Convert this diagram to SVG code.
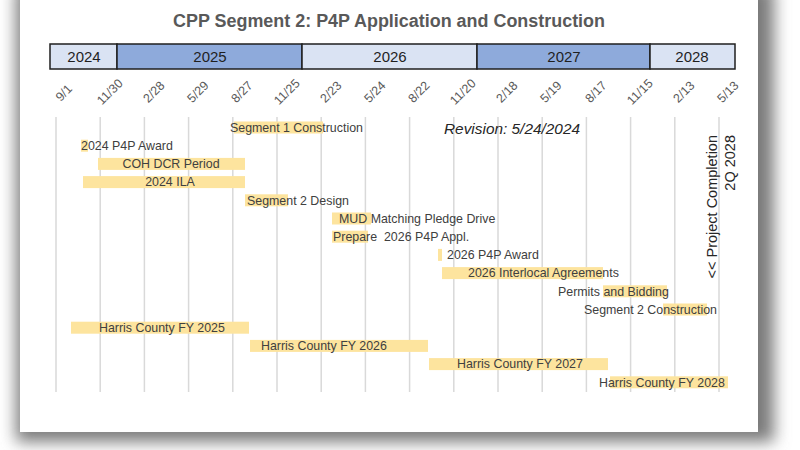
<svg xmlns="http://www.w3.org/2000/svg" width="800" height="450" viewBox="0 0 800 450">
<defs>
<filter id="sh" x="-10%" y="-10%" width="120%" height="130%">
<feGaussianBlur stdDeviation="8"/>
</filter>
<style>
.yr{fill:#dae3f3;stroke:#1f1f1f;stroke-width:1.5}
.yrd{fill:#8eaadb;stroke:#1f1f1f;stroke-width:1.5}
.yt{font-family:"Liberation Sans",Arial,sans-serif;font-size:15px;fill:#1f1f1f;text-anchor:middle}
.tk{font-family:"Liberation Sans",Arial,sans-serif;font-size:12.5px;fill:#595959;text-anchor:middle}
.gl{stroke:#d9d9d9;stroke-width:1.5}
.bar{fill:#fde49e}
.lb{font-family:"Liberation Sans",Arial,sans-serif;font-size:12.4px;fill:#404040;white-space:pre}
.vt{font-family:"Liberation Sans",Arial,sans-serif;font-size:14.5px;fill:#262626;text-anchor:end}
</style>
</defs>
<rect width="800" height="450" fill="#ffffff"/>
<rect x="16" y="-14" width="758" height="456" fill="#7a7a7a" filter="url(#sh)"/>
<rect x="20" y="0" width="738" height="432" fill="#ffffff"/>

<g id="title">
<text x="173" y="27" font-family="'Liberation Sans',Arial,sans-serif" font-size="17.5" font-weight="bold" fill="#595959" textLength="432" lengthAdjust="spacingAndGlyphs">CPP Segment 2: P4P Application and Construction</text>
</g>

<g id="years">
<rect class="yr" x="50" y="44" width="67" height="25"/>
<rect class="yrd" x="117" y="44" width="185" height="25"/>
<rect class="yr" x="302" y="44" width="175" height="25"/>
<rect class="yrd" x="477" y="44" width="173" height="25"/>
<rect class="yr" x="650" y="44" width="85" height="25"/>
<text class="yt" x="84" y="62">2024</text>
<text class="yt" x="210" y="62">2025</text>
<text class="yt" x="390" y="62">2026</text>
<text class="yt" x="564" y="62">2027</text>
<text class="yt" x="692" y="62">2028</text>
</g>

<g id="grid">
<line class="gl" x1="56" y1="117" x2="56" y2="392"/>
<line class="gl" x1="100.2" y1="117" x2="100.2" y2="392"/>
<line class="gl" x1="144.4" y1="117" x2="144.4" y2="392"/>
<line class="gl" x1="188.6" y1="117" x2="188.6" y2="392"/>
<line class="gl" x1="232.8" y1="117" x2="232.8" y2="392"/>
<line class="gl" x1="277" y1="117" x2="277" y2="392"/>
<line class="gl" x1="321.2" y1="117" x2="321.2" y2="392"/>
<line class="gl" x1="365.4" y1="117" x2="365.4" y2="392"/>
<line class="gl" x1="409.6" y1="117" x2="409.6" y2="392"/>
<line class="gl" x1="453.8" y1="117" x2="453.8" y2="392"/>
<line class="gl" x1="498" y1="117" x2="498" y2="392"/>
<line class="gl" x1="542.2" y1="117" x2="542.2" y2="392"/>
<line class="gl" x1="586.4" y1="117" x2="586.4" y2="392"/>
<line class="gl" x1="630.6" y1="117" x2="630.6" y2="392"/>
<line class="gl" x1="674.8" y1="117" x2="674.8" y2="392"/>
<line class="gl" x1="719" y1="117" x2="719" y2="392"/>
</g>

<g id="ticks">
<text class="tk" transform="translate(64,93) rotate(-45)" y="4">9/1</text>
<text class="tk" transform="translate(110,92) rotate(-45)" y="4">11/30</text>
<text class="tk" transform="translate(154,92) rotate(-45)" y="4">2/28</text>
<text class="tk" transform="translate(198,92) rotate(-45)" y="4">5/29</text>
<text class="tk" transform="translate(242,92) rotate(-45)" y="4">8/27</text>
<text class="tk" transform="translate(287,92) rotate(-45)" y="4">11/25</text>
<text class="tk" transform="translate(331,92) rotate(-45)" y="4">2/23</text>
<text class="tk" transform="translate(375,92) rotate(-45)" y="4">5/24</text>
<text class="tk" transform="translate(419,92) rotate(-45)" y="4">8/22</text>
<text class="tk" transform="translate(463,92) rotate(-45)" y="4">11/20</text>
<text class="tk" transform="translate(507,92) rotate(-45)" y="4">2/18</text>
<text class="tk" transform="translate(551,92) rotate(-45)" y="4">5/19</text>
<text class="tk" transform="translate(596,92) rotate(-45)" y="4">8/17</text>
<text class="tk" transform="translate(640,92) rotate(-45)" y="4">11/15</text>
<text class="tk" transform="translate(684,92) rotate(-45)" y="4">2/13</text>
<text class="tk" transform="translate(728,92) rotate(-45)" y="4">5/13</text>
</g>

<g id="seg1-construction"><rect class="bar" x="234" y="121.5" width="89" height="12"/><text class="lb" x="230" y="132">Segment 1 Construction</text></g>
<g id="p4p-award-2024"><rect class="bar" x="81" y="139.7" width="7" height="12"/><text class="lb" x="81" y="150">2024 P4P Award</text></g>
<g id="coh-dcr"><rect class="bar" x="98" y="157.9" width="147" height="12"/><text class="lb" x="171" y="168.2" text-anchor="middle">COH DCR Period</text></g>
<g id="ila-2024"><rect class="bar" x="83" y="176.1" width="162" height="12"/><text class="lb" x="170" y="186.4" text-anchor="middle">2024 ILA</text></g>
<g id="seg2-design"><rect class="bar" x="245" y="194.3" width="43" height="12"/><text class="lb" x="247" y="204.6">Segment 2 Design</text></g>
<g id="mud-pledge"><rect class="bar" x="332" y="212.5" width="39" height="12"/><text class="lb" x="339" y="222.8">MUD Matching Pledge Drive</text></g>
<g id="prepare-2026"><rect class="bar" x="332" y="230.7" width="36" height="12"/><text class="lb" x="333" y="241">Prepare  2026 P4P Appl.</text></g>
<g id="p4p-award-2026"><rect class="bar" x="438" y="248.9" width="4" height="12"/><text class="lb" x="447" y="259.2">2026 P4P Award</text></g>
<g id="interlocal-2026"><rect class="bar" x="442" y="267.1" width="161" height="12"/><text class="lb" x="468" y="277.4">2026 Interlocal Agreements</text></g>
<g id="permits"><rect class="bar" x="603" y="285.3" width="64" height="12"/><text class="lb" x="558" y="295.6">Permits and Bidding</text></g>
<g id="seg2-construction"><rect class="bar" x="663" y="303.5" width="44" height="12"/><text class="lb" x="584" y="313.8">Segment 2 Construction</text></g>
<g id="hc-fy2025"><rect class="bar" x="71" y="321.7" width="178" height="12"/><text class="lb" x="99" y="332">Harris County FY 2025</text></g>
<g id="hc-fy2026"><rect class="bar" x="250" y="339.9" width="178" height="12"/><text class="lb" x="261" y="350.2">Harris County FY 2026</text></g>
<g id="hc-fy2027"><rect class="bar" x="429" y="358.1" width="179" height="12"/><text class="lb" x="457" y="368.4">Harris County FY 2027</text></g>
<g id="hc-fy2028"><rect class="bar" x="610" y="376.3" width="118" height="12"/><text class="lb" x="599" y="386.6">Harris County FY 2028</text></g>

<g id="revision">
<text x="444" y="134" font-family="'Liberation Sans',Arial,sans-serif" font-size="15" font-style="italic" fill="#262626" textLength="136" lengthAdjust="spacingAndGlyphs">Revision: 5/24/2024</text>
</g>

<g id="completion">
<text class="vt" transform="translate(717,135) rotate(-90)">&lt;&lt; Project Completion</text>
<text class="vt" transform="translate(735,135) rotate(-90)">2Q 2028</text>
</g>
</svg>
